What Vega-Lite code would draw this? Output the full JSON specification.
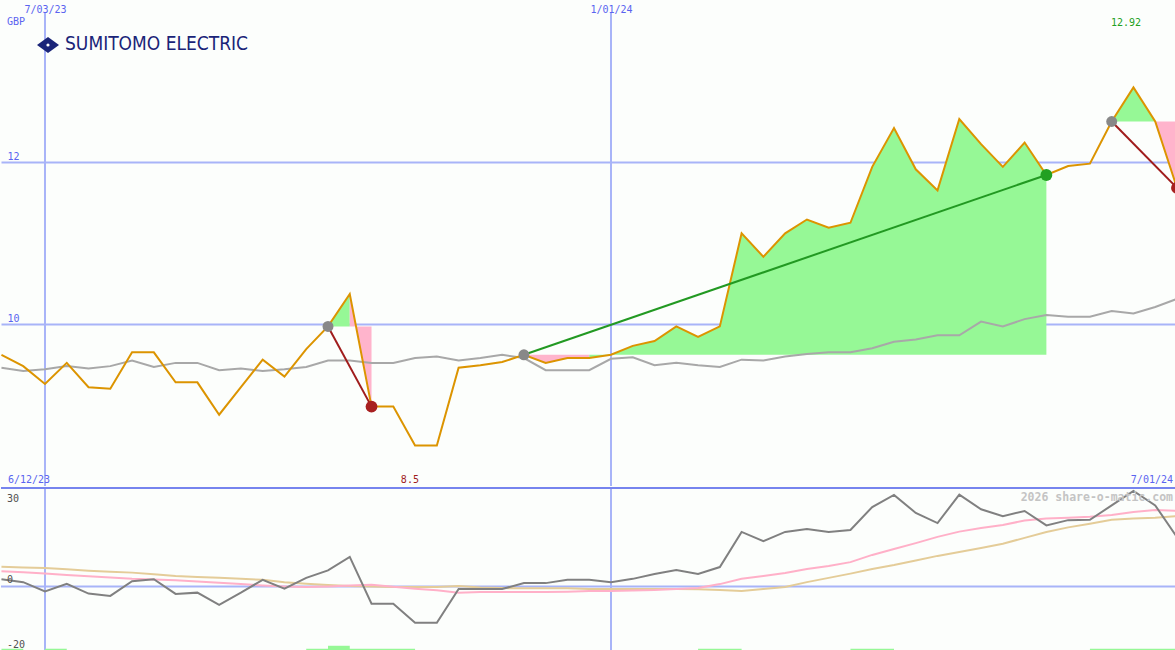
{
  "$schema": "https://vega.github.io/schema/vega-lite/v6.json",
  "background": "#fcfefc",
  "padding": 0,
  "spacing": 0,
  "config": {"view": {"stroke": null}, "concat": {"spacing": 0}},
  "datasets": {
    "main": [
      {"d": "2023-06-19", "p": 9.62, "ma": 9.46, "osc": 2.2, "pk": 4.6, "tn": 6.0},
      {"d": "2023-06-26", "p": 9.48, "ma": 9.42, "osc": 1.3, "pk": 4.3, "tn": 5.8},
      {"d": "2023-07-03", "p": 9.26, "ma": 9.44, "osc": -1.5, "pk": 3.9, "tn": 5.6},
      {"d": "2023-07-10", "p": 9.52, "ma": 9.48, "osc": 0.8, "pk": 3.5, "tn": 5.2},
      {"d": "2023-07-17", "p": 9.22, "ma": 9.45, "osc": -2.2, "pk": 3.1, "tn": 4.8},
      {"d": "2023-07-24", "p": 9.20, "ma": 9.48, "osc": -2.9, "pk": 2.7, "tn": 4.5},
      {"d": "2023-07-31", "p": 9.65, "ma": 9.55, "osc": 1.6, "pk": 2.3, "tn": 4.2},
      {"d": "2023-08-07", "p": 9.65, "ma": 9.47, "osc": 2.2, "pk": 2.1, "tn": 3.7},
      {"d": "2023-08-14", "p": 9.28, "ma": 9.52, "osc": -2.3, "pk": 1.9, "tn": 3.2},
      {"d": "2023-08-21", "p": 9.28, "ma": 9.52, "osc": -1.9, "pk": 1.5, "tn": 2.9},
      {"d": "2023-08-28", "p": 8.88, "ma": 9.43, "osc": -5.6, "pk": 1.1, "tn": 2.6},
      {"d": "2023-09-04", "p": 9.22, "ma": 9.45, "osc": -1.9, "pk": 0.7, "tn": 2.3},
      {"d": "2023-09-11", "p": 9.56, "ma": 9.42, "osc": 2.0, "pk": 0.3, "tn": 2.0},
      {"d": "2023-09-18", "p": 9.35, "ma": 9.44, "osc": -0.7, "pk": 0.0, "tn": 1.3},
      {"d": "2023-09-25", "p": 9.69, "ma": 9.47, "osc": 2.6, "pk": -0.2, "tn": 0.8},
      {"d": "2023-10-02", "p": 9.97, "ma": 9.55, "osc": 4.9, "pk": 0.0, "tn": 0.4},
      {"d": "2023-10-09", "p": 10.37, "ma": 9.55, "osc": 9.0, "pk": 0.3, "tn": 0.1},
      {"d": "2023-10-16", "p": 8.98, "ma": 9.52, "osc": -5.3, "pk": 0.5, "tn": -0.05},
      {"d": "2023-10-23", "p": 8.98, "ma": 9.52, "osc": -5.3, "pk": -0.1, "tn": -0.2},
      {"d": "2023-10-30", "p": 8.50, "ma": 9.58, "osc": -11.1, "pk": -0.7, "tn": -0.2},
      {"d": "2023-11-06", "p": 8.50, "ma": 9.60, "osc": -11.1, "pk": -1.2, "tn": -0.2},
      {"d": "2023-11-13", "p": 9.46, "ma": 9.55, "osc": -0.8, "pk": -1.9, "tn": 0.1},
      {"d": "2023-11-20", "p": 9.49, "ma": 9.58, "osc": -0.8, "pk": -1.7, "tn": -0.3},
      {"d": "2023-11-27", "p": 9.53, "ma": 9.62, "osc": -0.8, "pk": -1.7, "tn": -0.5},
      {"d": "2023-12-04", "p": 9.62, "ma": 9.58, "osc": 1.0, "pk": -1.7, "tn": -0.6},
      {"d": "2023-12-11", "p": 9.52, "ma": 9.43, "osc": 1.0, "pk": -1.7, "tn": -0.6},
      {"d": "2023-12-18", "p": 9.58, "ma": 9.43, "osc": 2.0, "pk": -1.6, "tn": -0.6},
      {"d": "2023-12-25", "p": 9.58, "ma": 9.43, "osc": 2.0, "pk": -1.4, "tn": -0.8},
      {"d": "2024-01-01", "p": 9.62, "ma": 9.57, "osc": 1.3, "pk": -1.4, "tn": -0.8},
      {"d": "2024-01-08", "p": 9.73, "ma": 9.59, "osc": 2.3, "pk": -1.25, "tn": -0.8},
      {"d": "2024-01-15", "p": 9.79, "ma": 9.49, "osc": 3.8, "pk": -1.1, "tn": -0.8},
      {"d": "2024-01-22", "p": 9.97, "ma": 9.52, "osc": 5.0, "pk": -0.8, "tn": -0.8},
      {"d": "2024-01-29", "p": 9.84, "ma": 9.49, "osc": 3.8, "pk": -0.5, "tn": -0.9},
      {"d": "2024-02-05", "p": 9.97, "ma": 9.47, "osc": 5.9, "pk": 0.7, "tn": -1.1},
      {"d": "2024-02-12", "p": 11.12, "ma": 9.56, "osc": 16.6, "pk": 2.3, "tn": -1.4},
      {"d": "2024-02-19", "p": 10.83, "ma": 9.55, "osc": 13.8, "pk": 3.2, "tn": -0.8},
      {"d": "2024-02-26", "p": 11.12, "ma": 9.60, "osc": 16.6, "pk": 4.1, "tn": -0.2},
      {"d": "2024-03-04", "p": 11.29, "ma": 9.63, "osc": 17.5, "pk": 5.3, "tn": 1.3},
      {"d": "2024-03-11", "p": 11.19, "ma": 9.65, "osc": 16.6, "pk": 6.2, "tn": 2.6},
      {"d": "2024-03-18", "p": 11.25, "ma": 9.65, "osc": 17.2, "pk": 7.4, "tn": 3.9},
      {"d": "2024-03-25", "p": 11.94, "ma": 9.70, "osc": 24.2, "pk": 9.6, "tn": 5.3},
      {"d": "2024-04-01", "p": 12.42, "ma": 9.78, "osc": 27.9, "pk": 11.4, "tn": 6.5},
      {"d": "2024-04-08", "p": 11.91, "ma": 9.81, "osc": 22.4, "pk": 13.2, "tn": 7.9},
      {"d": "2024-04-15", "p": 11.65, "ma": 9.86, "osc": 19.3, "pk": 15.1, "tn": 9.3},
      {"d": "2024-04-22", "p": 12.53, "ma": 9.86, "osc": 28.0, "pk": 16.7, "tn": 10.5},
      {"d": "2024-04-29", "p": 12.22, "ma": 10.03, "osc": 23.5, "pk": 17.8, "tn": 11.7},
      {"d": "2024-05-06", "p": 11.94, "ma": 9.97, "osc": 21.4, "pk": 18.7, "tn": 13.0},
      {"d": "2024-05-13", "p": 12.24, "ma": 10.06, "osc": 23.0, "pk": 20.1, "tn": 14.8},
      {"d": "2024-05-20", "p": 11.84, "ma": 10.11, "osc": 18.6, "pk": 20.7, "tn": 16.6},
      {"d": "2024-05-27", "p": 11.95, "ma": 10.09, "osc": 20.2, "pk": 20.9, "tn": 18.0},
      {"d": "2024-06-03", "p": 11.98, "ma": 10.09, "osc": 20.3, "pk": 21.2, "tn": 19.1},
      {"d": "2024-06-10", "p": 12.50, "ma": 10.16, "osc": 24.7, "pk": 21.8, "tn": 20.3},
      {"d": "2024-06-17", "p": 12.92, "ma": 10.13, "osc": 29.1, "pk": 22.7, "tn": 20.7},
      {"d": "2024-06-24", "p": 12.50, "ma": 10.21, "osc": 24.7, "pk": 23.3, "tn": 20.9},
      {"d": "2024-07-01", "p": 11.68, "ma": 10.31, "osc": 15.0, "pk": 23.0, "tn": 21.4}
    ],
    "bands": [
      {"band": "t1g", "s": "g", "d": "2023-10-02", "p": 9.97, "base": 9.97},
      {"band": "t1g", "s": "g", "d": "2023-10-09", "p": 10.37, "base": 9.97},
      {"band": "t1p", "s": "p", "d": "2023-10-09", "p": 10.37, "base": 9.97},
      {"band": "t1p", "s": "p", "d": "2023-10-16", "p": 8.98, "base": 9.97},
      {"band": "t2p", "s": "p", "d": "2023-12-04", "p": 9.62, "base": 9.62},
      {"band": "t2p", "s": "p", "d": "2023-12-11", "p": 9.52, "base": 9.62},
      {"band": "t2p", "s": "p", "d": "2023-12-18", "p": 9.58, "base": 9.62},
      {"band": "t2p", "s": "p", "d": "2023-12-25", "p": 9.58, "base": 9.62},
      {"band": "t2g", "s": "g", "d": "2023-12-25", "p": 9.58, "base": 9.62},
      {"band": "t2g", "s": "g", "d": "2024-01-01", "p": 9.62, "base": 9.62},
      {"band": "t2g", "s": "g", "d": "2024-01-08", "p": 9.73, "base": 9.62},
      {"band": "t2g", "s": "g", "d": "2024-01-15", "p": 9.79, "base": 9.62},
      {"band": "t2g", "s": "g", "d": "2024-01-22", "p": 9.97, "base": 9.62},
      {"band": "t2g", "s": "g", "d": "2024-01-29", "p": 9.84, "base": 9.62},
      {"band": "t2g", "s": "g", "d": "2024-02-05", "p": 9.97, "base": 9.62},
      {"band": "t2g", "s": "g", "d": "2024-02-12", "p": 11.12, "base": 9.62},
      {"band": "t2g", "s": "g", "d": "2024-02-19", "p": 10.83, "base": 9.62},
      {"band": "t2g", "s": "g", "d": "2024-02-26", "p": 11.12, "base": 9.62},
      {"band": "t2g", "s": "g", "d": "2024-03-04", "p": 11.29, "base": 9.62},
      {"band": "t2g", "s": "g", "d": "2024-03-11", "p": 11.19, "base": 9.62},
      {"band": "t2g", "s": "g", "d": "2024-03-18", "p": 11.25, "base": 9.62},
      {"band": "t2g", "s": "g", "d": "2024-03-25", "p": 11.94, "base": 9.62},
      {"band": "t2g", "s": "g", "d": "2024-04-01", "p": 12.42, "base": 9.62},
      {"band": "t2g", "s": "g", "d": "2024-04-08", "p": 11.91, "base": 9.62},
      {"band": "t2g", "s": "g", "d": "2024-04-15", "p": 11.65, "base": 9.62},
      {"band": "t2g", "s": "g", "d": "2024-04-22", "p": 12.53, "base": 9.62},
      {"band": "t2g", "s": "g", "d": "2024-04-29", "p": 12.22, "base": 9.62},
      {"band": "t2g", "s": "g", "d": "2024-05-06", "p": 11.94, "base": 9.62},
      {"band": "t2g", "s": "g", "d": "2024-05-13", "p": 12.24, "base": 9.62},
      {"band": "t2g", "s": "g", "d": "2024-05-20", "p": 11.84, "base": 9.62},
      {"band": "t3g", "s": "g", "d": "2024-06-10", "p": 12.50, "base": 12.50},
      {"band": "t3g", "s": "g", "d": "2024-06-17", "p": 12.92, "base": 12.50},
      {"band": "t3g", "s": "g", "d": "2024-06-24", "p": 12.50, "base": 12.50},
      {"band": "t3p", "s": "p", "d": "2024-06-24", "p": 12.50, "base": 12.50},
      {"band": "t3p", "s": "p", "d": "2024-07-01", "p": 11.68, "base": 12.50}
    ],
    "trades": [
      {"trade": 1, "role": "entry", "res": "loss", "d": "2023-10-02", "v": 9.97},
      {"trade": 1, "role": "exit", "res": "loss", "d": "2023-10-16", "v": 8.98},
      {"trade": 2, "role": "entry", "res": "gain", "d": "2023-12-04", "v": 9.62},
      {"trade": 2, "role": "exit", "res": "gain", "d": "2024-05-20", "v": 11.84},
      {"trade": 3, "role": "entry", "res": "loss", "d": "2024-06-10", "v": 12.50},
      {"trade": 3, "role": "exit", "res": "loss", "d": "2024-07-01", "v": 11.68}
    ],
    "bars": [
      {"d": "2023-06-19", "e": "2023-06-26", "v": -19.0},
      {"d": "2023-07-03", "e": "2023-07-10", "v": -19.0},
      {"d": "2023-09-25", "e": "2023-10-30", "v": -19.0},
      {"d": "2023-10-02", "e": "2023-10-09", "v": -18.1},
      {"d": "2024-01-29", "e": "2024-02-12", "v": -19.0},
      {"d": "2024-03-18", "e": "2024-04-01", "v": -19.0},
      {"d": "2024-06-03", "e": "2024-07-01", "v": -19.0}
    ],
    "vlines": [
      {"d": "2023-07-03"},
      {"d": "2024-01-01"}
    ],
    "one": [{"k": 1}]
  },
  "vconcat": [
    {
      "width": 1175,
      "height": 486,
      "resolve": {"scale": {"color": "independent"}},
      "layer": [
        {
          "data": {"name": "vlines"},
          "mark": {"type": "rule", "color": "#a8b4f8", "strokeWidth": 2},
          "encoding": {
            "x": {"field": "d", "type": "temporal",
              "scale": {"type": "utc", "domain": [
                {"year": 2023, "month": "jun", "date": 18, "hours": 20, "minutes": 30, "utc": true},
                {"year": 2024, "month": "jun", "date": 30, "hours": 16, "minutes": 20, "utc": true}]},
              "axis": {"orient": "top", "offset": -13, "domain": false, "ticks": false, "grid": false,
                "values": [
                  {"year": 2023, "month": "jul", "date": 3, "utc": true},
                  {"year": 2024, "month": "jan", "date": 1, "utc": true}],
                "format": "%-m/%d/%y", "labelPadding": 1, "labelBaseline": "alphabetic", "labelAngle": 0,
                "labelColor": "#5a64f0", "labelFont": "DejaVu Sans Mono", "labelFontSize": 10, "title": null}},
            "y": {"datum": 13.84, "type": "quantitative",
              "scale": {"domain": [8, 14], "nice": false, "zero": false},
              "axis": {"values": [10, 12], "format": "d", "grid": true, "gridColor": "#a8b4f8", "gridWidth": 2,
                "domain": false, "ticks": false, "labelAlign": "left", "labelPadding": -6,
                "labelBaseline": "alphabetic", "labelOffset": -3, "labelColor": "#5a64f0",
                "labelFont": "DejaVu Sans Mono", "labelFontSize": 10, "title": null}},
            "y2": {"datum": 8}
          }
        },
        {
          "data": {"name": "bands"},
          "mark": {"type": "area", "opacity": 1, "clip": true},
          "encoding": {
            "x": {"field": "d", "type": "temporal"},
            "y": {"field": "p", "type": "quantitative", "stack": null},
            "y2": {"field": "base"},
            "detail": {"field": "band"},
            "color": {"field": "s", "type": "nominal", "legend": null,
              "scale": {"domain": ["g", "p"], "range": ["#96f896", "#ffb4cc"]}}
          }
        },
        {
          "data": {"name": "main"},
          "mark": {"type": "line", "color": "#a8a8a8", "strokeWidth": 2, "clip": true},
          "encoding": {
            "x": {"field": "d", "type": "temporal"},
            "y": {"field": "ma", "type": "quantitative"}
          }
        },
        {
          "data": {"name": "main"},
          "mark": {"type": "line", "color": "#dc9400", "strokeWidth": 2, "clip": true},
          "encoding": {
            "x": {"field": "d", "type": "temporal"},
            "y": {"field": "p", "type": "quantitative"}
          }
        },
        {
          "data": {"name": "trades"},
          "mark": {"type": "line", "strokeWidth": 2, "clip": true},
          "encoding": {
            "x": {"field": "d", "type": "temporal"},
            "y": {"field": "v", "type": "quantitative"},
            "detail": {"field": "trade"},
            "color": {"field": "res", "type": "nominal", "legend": null,
              "scale": {"domain": ["gain", "loss"], "range": ["#229922", "#a01c1c"]}}
          }
        },
        {
          "data": {"name": "trades"},
          "transform": [{"filter": "datum.role == 'entry'"}],
          "mark": {"type": "point", "shape": "circle", "filled": true, "size": 120, "color": "#888888", "opacity": 1, "clip": true},
          "encoding": {
            "x": {"field": "d", "type": "temporal"},
            "y": {"field": "v", "type": "quantitative"}
          }
        },
        {
          "data": {"name": "trades"},
          "transform": [{"filter": "datum.role == 'exit'"}],
          "mark": {"type": "point", "shape": "circle", "filled": true, "size": 140, "opacity": 1, "clip": true},
          "encoding": {
            "x": {"field": "d", "type": "temporal"},
            "y": {"field": "v", "type": "quantitative"},
            "color": {"field": "res", "type": "nominal", "legend": null,
              "scale": {"domain": ["gain", "loss"], "range": ["#22a022", "#a82020"]}}
          }
        },
        {
          "data": {"name": "one"},
          "mark": {"type": "text", "align": "left", "baseline": "alphabetic", "dx": 6, "color": "#5a64f0", "font": "DejaVu Sans Mono", "fontSize": 10},
          "encoding": {
            "x": {"datum": {"year": 2023, "month": "jun", "date": 18, "hours": 20, "minutes": 30, "utc": true}, "type": "temporal"},
            "y": {"datum": 13.69, "type": "quantitative"},
            "text": {"value": "GBP"}
          }
        },
        {
          "data": {"name": "one"},
          "mark": {"type": "text", "align": "center", "baseline": "alphabetic", "color": "#22a022", "font": "DejaVu Sans Mono", "fontSize": 10},
          "encoding": {
            "x": {"datum": {"year": 2024, "month": "jun", "date": 14, "hours": 14, "utc": true}, "type": "temporal"},
            "y": {"datum": 13.68, "type": "quantitative"},
            "text": {"value": "12.92"}
          }
        },
        {
          "data": {"name": "one"},
          "mark": {"type": "text", "align": "center", "baseline": "alphabetic", "color": "#a01c1c", "font": "DejaVu Sans Mono", "fontSize": 10},
          "encoding": {
            "x": {"datum": {"year": 2023, "month": "oct", "date": 28, "hours": 8, "utc": true}, "type": "temporal"},
            "y": {"datum": 8.037, "type": "quantitative"},
            "text": {"value": "8.5"}
          }
        },
        {
          "data": {"name": "one"},
          "mark": {"type": "text", "align": "left", "baseline": "alphabetic", "dx": 7, "color": "#5a64f0", "font": "DejaVu Sans Mono", "fontSize": 10},
          "encoding": {
            "x": {"datum": {"year": 2023, "month": "jun", "date": 18, "hours": 20, "minutes": 30, "utc": true}, "type": "temporal"},
            "y": {"datum": 8.037, "type": "quantitative"},
            "text": {"value": "6/12/23"}
          }
        },
        {
          "data": {"name": "one"},
          "mark": {"type": "text", "align": "right", "baseline": "alphabetic", "dx": -3, "color": "#5a64f0", "font": "DejaVu Sans Mono", "fontSize": 10},
          "encoding": {
            "x": {"datum": {"year": 2024, "month": "jun", "date": 30, "hours": 16, "minutes": 20, "utc": true}, "type": "temporal"},
            "y": {"datum": 8.037, "type": "quantitative"},
            "text": {"value": "7/01/24"}
          }
        },
        {
          "data": {"name": "one"},
          "mark": {"type": "point", "shape": "M-1,0L0,-0.72L1,0L0,0.72Z", "filled": true, "size": 484, "color": "#1a2478", "opacity": 1},
          "encoding": {
            "x": {"datum": {"year": 2023, "month": "jul", "date": 3, "hours": 23, "utc": true}, "type": "temporal"},
            "y": {"datum": 13.444, "type": "quantitative"}
          }
        },
        {
          "data": {"name": "one"},
          "mark": {"type": "point", "shape": "circle", "filled": true, "size": 10, "color": "#ffffff", "opacity": 1},
          "encoding": {
            "x": {"datum": {"year": 2023, "month": "jul", "date": 3, "hours": 23, "utc": true}, "type": "temporal"},
            "y": {"datum": 13.444, "type": "quantitative"}
          }
        },
        {
          "data": {"name": "one"},
          "mark": {"type": "text", "align": "left", "baseline": "middle", "color": "#1a2478", "font": "Liberation Sans Narrow, DejaVu Sans Condensed, Roboto", "fontSize": 19},
          "encoding": {
            "x": {"datum": {"year": 2023, "month": "jul", "date": 9, "hours": 10, "minutes": 30, "utc": true}, "type": "temporal"},
            "y": {"datum": 13.457, "type": "quantitative"},
            "text": {"value": "SUMITOMO ELECTRIC"}
          }
        }
      ]
    },
    {
      "width": 1175,
      "height": 164,
      "layer": [
        {
          "data": {"name": "vlines"},
          "mark": {"type": "rule", "color": "#a8b4f8", "strokeWidth": 2},
          "encoding": {
            "x": {"field": "d", "type": "temporal", "axis": null,
              "scale": {"type": "utc", "domain": [
                {"year": 2023, "month": "jun", "date": 18, "hours": 20, "minutes": 30, "utc": true},
                {"year": 2024, "month": "jun", "date": 30, "hours": 16, "minutes": 20, "utc": true}]}}
          }
        },
        {
          "data": {"name": "one"},
          "mark": {"type": "rule", "color": "#a8b4f8", "strokeWidth": 2},
          "encoding": {"y": {"datum": 0, "type": "quantitative",
            "scale": {"domain": [-20, 30], "nice": false, "zero": false}, "axis": null}}
        },
        {
          "data": {"name": "one"},
          "mark": {"type": "rule", "color": "#7684ee", "strokeWidth": 2},
          "encoding": {"y": {"datum": 30, "type": "quantitative"}}
        },
        {
          "data": {"name": "bars"},
          "mark": {"type": "rect", "color": "#96f896", "opacity": 1, "clip": true},
          "encoding": {
            "x": {"field": "d", "type": "temporal"},
            "x2": {"field": "e"},
            "y": {"field": "v", "type": "quantitative"},
            "y2": {"datum": -20.6}
          }
        },
        {
          "data": {"name": "main"},
          "mark": {"type": "line", "color": "#e4cc98", "strokeWidth": 2, "clip": true},
          "encoding": {
            "x": {"field": "d", "type": "temporal"},
            "y": {"field": "tn", "type": "quantitative"}
          }
        },
        {
          "data": {"name": "main"},
          "mark": {"type": "line", "color": "#ffb0c8", "strokeWidth": 2, "clip": true},
          "encoding": {
            "x": {"field": "d", "type": "temporal"},
            "y": {"field": "pk", "type": "quantitative"}
          }
        },
        {
          "data": {"name": "main"},
          "mark": {"type": "line", "color": "#808080", "strokeWidth": 2, "clip": true},
          "encoding": {
            "x": {"field": "d", "type": "temporal"},
            "y": {"field": "osc", "type": "quantitative"}
          }
        },
        {
          "data": {"name": "one"},
          "mark": {"type": "text", "align": "left", "baseline": "top", "dx": 6, "dy": 6, "color": "#505050", "font": "DejaVu Sans Mono", "fontSize": 10},
          "encoding": {
            "x": {"datum": {"year": 2023, "month": "jun", "date": 18, "hours": 20, "minutes": 30, "utc": true}, "type": "temporal"},
            "y": {"datum": 30, "type": "quantitative"},
            "text": {"value": "30"}
          }
        },
        {
          "data": {"name": "one"},
          "mark": {"type": "text", "align": "left", "baseline": "alphabetic", "dx": 6, "dy": -3, "color": "#505050", "font": "DejaVu Sans Mono", "fontSize": 10},
          "encoding": {
            "x": {"datum": {"year": 2023, "month": "jun", "date": 18, "hours": 20, "minutes": 30, "utc": true}, "type": "temporal"},
            "y": {"datum": 0, "type": "quantitative"},
            "text": {"value": "0"}
          }
        },
        {
          "data": {"name": "one"},
          "mark": {"type": "text", "align": "left", "baseline": "alphabetic", "dx": 6, "dy": -4, "color": "#505050", "font": "DejaVu Sans Mono", "fontSize": 10},
          "encoding": {
            "x": {"datum": {"year": 2023, "month": "jun", "date": 18, "hours": 20, "minutes": 30, "utc": true}, "type": "temporal"},
            "y": {"datum": -20, "type": "quantitative"},
            "text": {"value": "-20"}
          }
        },
        {
          "data": {"name": "one"},
          "mark": {"type": "text", "align": "right", "baseline": "middle", "dx": -3, "color": "#c4c4c4", "font": "DejaVu Sans Mono", "fontSize": 11.5, "fontWeight": "bold"},
          "encoding": {
            "x": {"datum": {"year": 2024, "month": "jun", "date": 30, "hours": 16, "minutes": 20, "utc": true}, "type": "temporal"},
            "y": {"datum": 27, "type": "quantitative"},
            "text": {"value": "2026 share-o-matic.com"}
          }
        }
      ]
    }
  ]
}
